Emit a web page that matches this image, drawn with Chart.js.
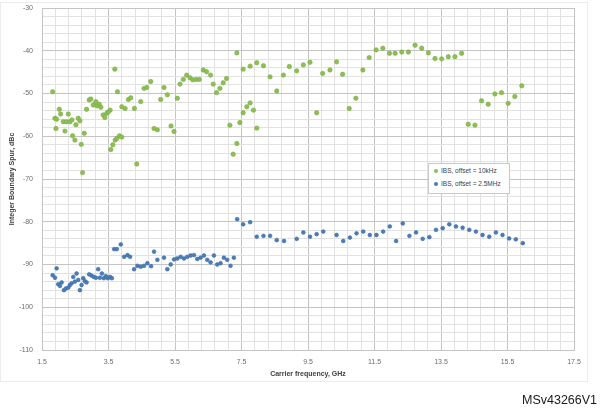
<!DOCTYPE html>
<html>
<head>
<meta charset="utf-8">
<script src="https://cdn.jsdelivr.net/npm/chart.js@4"></script>
<style>
  body { margin: 0; background: #fff; }
  #wrap { position: relative; width: 606px; height: 412px; }
  #frame { position: absolute; left: 0; top: 2px; width: 586px; height: 378px; border: 1px solid #ececec; }
  #legend { position: absolute; left: 428px; top: 163px; width: 80px; height: 29px; border: 1px solid #c8c8c8;
            background: #fff; font: 6.5px "Liberation Sans", Arial, sans-serif; color: #404040; }
  #legend div { height: 13px; line-height: 13px; padding-left: 5px; white-space: nowrap; }
  #legend span { display: inline-block; width: 4px; height: 4px; border-radius: 50%; margin-right: 3px; vertical-align: middle; }
  #tag { position: absolute; left: 522px; top: 393px; font: 12.5px "Liberation Sans", Arial, sans-serif; color: #1a1a1a; }
</style>
</head>
<body>
<div id="wrap">
  <div id="frame"></div>
  <canvas id="spurChart"></canvas>
  <div id="legend"></div>
  <div id="tag">MSv43266V1</div>
</div>
<script>
/* ===== data ===== */
const seriesNames = ["IBS, offset = 10kHz", "IBS, offset = 2.5MHz"];
const seriesColors = ["#8cc152", "#4a7ebb"];

// IBS, offset = 10kHz
const freq10k = [1.82, 1.89, 2.02, 1.94, 1.92, 2.06, 2.14, 2.19, 2.24, 2.29, 2.34, 2.40, 2.42, 2.49, 2.52, 2.59,
  2.64, 2.68, 2.72, 2.77, 2.84, 2.92, 2.97, 3.04, 3.12, 3.16, 3.22, 3.27, 3.34, 3.39, 3.45, 3.49, 3.55, 3.57,
  3.63, 3.70, 3.75, 3.83, 3.90, 3.69, 3.77, 3.90, 4.00, 4.10, 4.17, 4.28, 4.35, 4.47, 4.57, 4.65, 4.77, 4.87,
  4.97, 5.07, 5.17, 5.27, 5.38, 5.47, 5.57, 5.65, 5.75, 5.85, 5.95, 6.03, 6.13, 6.23, 6.35, 6.45, 6.57, 6.65,
  6.75, 6.85, 6.95, 7.05, 7.15, 7.25, 7.36, 7.45, 7.55, 7.66, 7.76, 7.86, 7.96, 7.36, 7.55, 7.76, 7.96, 8.16,
  8.36, 8.56, 8.76, 8.94, 9.16, 9.36, 9.56, 9.76, 9.94, 10.16, 10.36, 10.54, 10.74, 10.94, 11.15, 11.34, 11.55,
  11.75, 11.95, 12.12, 12.32, 12.52, 12.72, 12.92, 13.12, 13.32, 13.52, 13.72, 13.92, 14.12, 14.32, 14.52,
  14.72, 14.92, 15.12, 15.32, 15.52, 15.72, 15.93];
const spur10k = [-49.6, -55.8, -53.7, -56.0, -58.2, -54.8, -56.6, -58.8, -56.6, -54.8, -56.6, -56.2, -59.9, -60.9,
  -57.3, -55.8, -56.4, -61.9, -68.5, -59.3, -53.7, -51.5, -51.3, -52.7, -51.9, -52.9, -52.5, -53.2, -55.0, -55.6,
  -54.6, -54.3, -53.9, -63.1, -62.0, -60.9, -60.5, -59.9, -60.2, -44.3, -49.6, -53.1, -53.5, -51.4, -51.0, -53.5,
  -66.5, -51.9, -48.8, -48.6, -47.2, -58.2, -58.5, -51.4, -48.6, -50.3, -57.6, -58.9, -51.1, -47.8, -46.7, -45.7,
  -46.3, -46.8, -46.7, -46.7, -44.5, -44.9, -45.7, -47.8, -49.8, -48.8, -47.5, -46.5, -57.4, -64.2, -61.7, -56.8,
  -54.5, -53.1, -52.2, -53.9, -58.1, -40.5, -44.3, -43.6, -42.8, -43.5, -46.1, -49.4, -45.7, -43.7, -44.7, -43.3,
  -42.7, -54.5, -45.3, -44.5, -42.6, -45.5, -53.5, -51.1, -44.5, -41.6, -39.8, -39.4, -40.6, -40.6, -40.3, -40.3,
  -38.7, -39.4, -40.5, -41.8, -41.9, -41.4, -41.4, -40.6, -57.2, -57.4, -51.7, -52.5, -50.1, -49.8, -52.3, -50.7,
  -48.2];

// IBS, offset = 2.5MHz
const freq2m5 = [1.82, 1.89, 1.94, 1.99, 2.04, 2.09, 2.16, 2.22, 2.29, 2.34, 2.39, 2.44, 2.49, 2.54, 2.59, 2.64,
  2.69, 2.74, 2.79, 2.84, 2.92, 2.99, 3.06, 3.12, 3.19, 3.24, 3.30, 3.36, 3.42, 3.48, 3.55, 3.60, 3.67, 3.75,
  3.87, 3.97, 4.07, 4.15, 4.27, 4.37, 4.47, 4.57, 4.67, 4.78, 4.87, 4.97, 5.17, 5.27, 5.37, 5.47, 5.57, 5.67,
  5.77, 5.87, 5.97, 6.07, 6.17, 6.27, 6.37, 6.47, 6.57, 6.67, 6.77, 6.87, 6.97, 7.07, 7.17, 7.27, 7.37, 7.55,
  7.76, 7.96, 8.16, 8.36, 8.56, 8.78, 9.16, 9.36, 9.56, 9.76, 9.96, 10.36, 10.56, 10.76, 10.96, 11.16, 11.36,
  11.56, 11.76, 11.96, 12.15, 12.35, 12.55, 12.75, 12.95, 13.15, 13.35, 13.55, 13.75, 13.95, 14.15, 14.35,
  14.55, 14.75, 14.95, 15.15, 15.35, 15.55, 15.75, 15.96];
const spur2m5 = [-92.5, -93.1, -90.9, -94.6, -95.0, -94.2, -96.0, -95.6, -95.4, -94.8, -94.4, -92.9, -94.0, -92.1,
  -93.6, -96.0, -94.8, -93.2, -93.9, -94.2, -92.3, -92.6, -92.9, -93.1, -91.1, -93.1, -92.1, -93.2, -92.7, -93.2,
  -92.9, -93.2, -86.4, -86.4, -85.3, -88.2, -87.8, -88.2, -91.1, -90.3, -90.5, -90.3, -89.7, -90.4, -87.0, -88.9,
  -88.4, -91.1, -90.0, -88.8, -88.6, -88.2, -88.6, -88.2, -87.9, -87.8, -88.7, -88.4, -87.9, -88.9, -89.5, -87.9,
  -90.0, -89.7, -88.4, -88.9, -90.3, -88.4, -79.4, -80.6, -80.1, -83.5, -83.3, -83.3, -84.3, -84.5, -84.0, -82.5,
  -83.5, -82.9, -82.3, -83.1, -84.5, -83.7, -82.7, -82.3, -83.1, -83.1, -82.3, -81.1, -84.5, -80.4, -83.3, -82.5,
  -84.0, -83.6, -81.9, -81.5, -80.6, -81.1, -81.4, -81.9, -82.3, -83.1, -83.5, -82.5, -83.1, -83.9, -84.1, -85.0];

// axis tick labels (major), minor gridlines split each major step in 5
const xTickLabels = [1.5, 3.5, 5.5, 7.5, 9.5, 11.5, 13.5, 15.5, 17.5];
const yTickLabels = [-110, -100, -90, -80, -70, -60, -50, -40, -30];
const MINOR_DIV = 5;

const xTitle = "Carrier frequency, GHz";
const yTitle = "Integer Boundary Spur, dBc";

/* ===== helpers ===== */
function toPoints(xs, ys) {
    return xs.map((x, i) => ({ x: x, y: ys[i] }));
}

// build major + minor tick list from the major labels
function withMinorTicks(majors) {
    const out = [];
    for (let i = 0; i < majors.length - 1; i++) {
        const step = (majors[i + 1] - majors[i]) / MINOR_DIV;
        for (let k = 0; k < MINOR_DIV; k++) {
            out.push({ value: +(majors[i] + k * step).toFixed(4), major: k === 0 });
        }
    }
    out.push({ value: majors[majors.length - 1], major: true });
    return out;
}

const tickFont = { family: "'Liberation Sans', Arial, sans-serif", size: 7 };
const titleFont = { family: "'Liberation Sans', Arial, sans-serif", size: 7, weight: "bold" };

function gridColor(ctx) {
    return ctx.tick && ctx.tick.major ? "#c4c4c4" : "#e2e2e2";
}

/* ===== chart ===== */
new Chart(document.getElementById("spurChart"), {
    type: "scatter",
    data: {
        datasets: [
            {
                label: seriesNames[0],
                data: toPoints(freq10k, spur10k),
                backgroundColor: seriesColors[0],
                borderColor: "#7aaa45",
                borderWidth: 0.6,
                pointRadius: 2.2
            },
            {
                label: seriesNames[1],
                data: toPoints(freq2m5, spur2m5),
                backgroundColor: seriesColors[1],
                borderColor: "#3d6aa3",
                borderWidth: 0.6,
                pointRadius: 1.9
            }
        ]
    },
    options: {
        responsive: true,
        maintainAspectRatio: false,
        animation: false,
        layout: { padding: { top: 8, right: 32, bottom: 32, left: 0 } },
        plugins: {
            legend: { display: false },
            tooltip: { enabled: false }
        },
        scales: {
            x: {
                type: "linear",
                min: xTickLabels[0],
                max: xTickLabels[xTickLabels.length - 1],
                afterBuildTicks: scale => { scale.ticks = withMinorTicks(xTickLabels); },
                afterFit: scale => { scale.height = 30; },
                grid: { color: gridColor, drawTicks: false, lineWidth: 1 },
                border: { color: "#c4c4c4" },
                ticks: {
                    autoSkip: false,
                    maxRotation: 0,
                    padding: 8,
                    color: "#6b6b6b",
                    font: tickFont,
                    callback: function (value, index, ticks) {
                        return ticks[index].major ? String(value) : "";
                    }
                },
                title: { display: true, text: xTitle, color: "#404040", font: titleFont, padding: { top: 0, bottom: 2 } }
            },
            y: {
                type: "linear",
                min: yTickLabels[0],
                max: yTickLabels[yTickLabels.length - 1],
                afterBuildTicks: scale => { scale.ticks = withMinorTicks(yTickLabels); },
                afterFit: scale => {
                    scale.width = 42;
                    scale.paddingTop = 0;
                    scale.paddingBottom = 0;
                },
                grid: { color: gridColor, drawTicks: false, lineWidth: 1 },
                border: { color: "#c4c4c4" },
                ticks: {
                    autoSkip: false,
                    padding: 9,
                    color: "#6b6b6b",
                    font: tickFont,
                    callback: function (value, index, ticks) {
                        return ticks[index].major ? String(value) : "";
                    }
                },
                title: { display: true, text: yTitle, color: "#404040", font: titleFont, padding: { top: 8, bottom: 0 } }
            }
        }
    }
});

/* ===== legend (built from the series arrays) ===== */
const legendBox = document.getElementById("legend");
seriesNames.forEach((name, i) => {
    const row = document.createElement("div");
    const dot = document.createElement("span");
    dot.style.background = seriesColors[i];
    row.appendChild(dot);
    row.appendChild(document.createTextNode(name));
    legendBox.appendChild(row);
});
</script>
</body>
</html>
